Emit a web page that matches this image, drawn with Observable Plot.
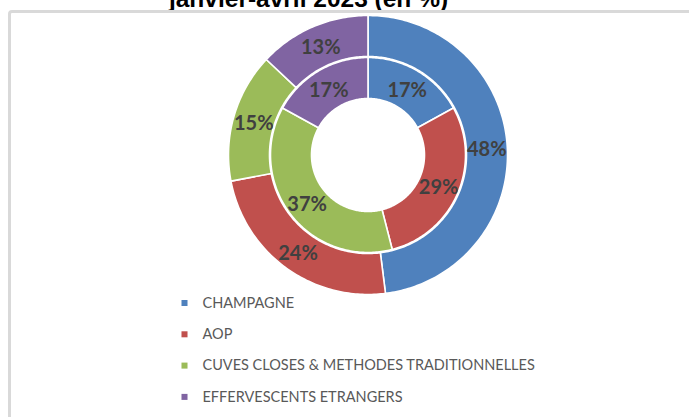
<!DOCTYPE html>
<html>
<head>
<meta charset="utf-8">
<script src="https://cdn.jsdelivr.net/npm/d3@7"></script>
<script src="https://cdn.jsdelivr.net/npm/@observablehq/plot@0.6"></script>
<style>
  html, body { margin: 0; padding: 0; background: #fff; }
  #wrap { position: relative; width: 689px; height: 417px; overflow: hidden; }
  #border { position: absolute; left: 8px; top: 10px; width: 740px; height: 470px;
            border: 3px solid #d9d9d9; border-radius: 4px; pointer-events: none; }
</style>
</head>
<body>
<div id="wrap"><div id="border"></div></div>
<script>
// ---- data ----
const categories = ["CHAMPAGNE", "AOP", "CUVES CLOSES & METHODES TRADITIONNELLES", "EFFERVESCENTS ETRANGERS"];
const outerValues = [48, 24, 15, 13];   // outer ring (%)
const innerValues = [17, 29, 37, 17];   // inner ring (%)
const colors = ["#4f81bd", "#c0504d", "#9bbb59", "#8064a2"];
const titleText = "janvier-avril 2023 (en %)";

// ---- layout ----
const W = 689, H = 417;
const cx = 367.5, cy = 154.5;
const rings = [
  {name: "outer", values: outerValues, r0: 98.5, r1: 139.5},
  {name: "inner", values: innerValues, r0: 56.5, r1: 97.5}
];

const pie = d3.pie().sort(null).value(d => d.v).startAngle(0).endAngle(2 * Math.PI);
const px = (r, a) => cx + r * Math.sin(a);
const py = (r, a) => cy - r * Math.cos(a);

const polys = [], labels = [];
for (const ring of rings) {
  const arcs = pie(ring.values.map((v, i) => ({v, cat: categories[i]})));
  arcs.forEach((a, i) => {
    const key = ring.name + i;
    const n = Math.max(4, Math.ceil((a.endAngle - a.startAngle) * 60));
    for (let k = 0; k <= n; k++) {
      const t = a.startAngle + (a.endAngle - a.startAngle) * k / n;
      polys.push({key, cat: a.data.cat, x: px(ring.r1, t), y: py(ring.r1, t)});
    }
    for (let k = n; k >= 0; k--) {
      const t = a.startAngle + (a.endAngle - a.startAngle) * k / n;
      polys.push({key, cat: a.data.cat, x: px(ring.r0, t), y: py(ring.r0, t)});
    }
    const mid = (a.startAngle + a.endAngle) / 2, rm = (ring.r0 + ring.r1) / 2;
    labels.push({x: px(rm, mid), y: py(rm, mid), text: a.data.v + "%"});
  });
}

const legendX = 184, legendTextX = 202, legendY0 = 302.5, legendStep = 31.3;
const legend = categories.map((c, i) => ({cat: c, y: legendY0 + i * legendStep}));

const chart = Plot.plot({
  width: W, height: H,
  margin: 0,
  x: {type: "identity", axis: null},
  y: {type: "identity", axis: null},
  color: {domain: categories, range: colors},
  style: {background: "transparent", overflow: "visible"},
  marks: [
    Plot.line(polys, {x: "x", y: "y", z: "key", fill: "cat", stroke: "white", strokeWidth: 1.6, curve: "linear-closed"}),
    Plot.text(labels, {x: "x", y: "y", dy: 2, text: "text", fill: "#404040", fontSize: 20, fontWeight: "bold", fontFamily: "Lato"}),
    Plot.dot(legend, {x: legendX, y: "y", symbol: "square", r: 3.4, fill: "cat", stroke: null}),
    Plot.text(legend, {x: legendTextX, y: "y", text: "cat", textAnchor: "start", fill: "#595959", fontSize: 14.5, fontFamily: "Lato"}),
    Plot.text([titleText], {x: 308, y: 6.5, text: d => d, lineAnchor: "bottom", fill: "#000", fontSize: 24.5, fontWeight: "bold", fontFamily: "Liberation Sans"})
  ]
});
document.getElementById("wrap").prepend(chart);
</script>
</body>
</html>
